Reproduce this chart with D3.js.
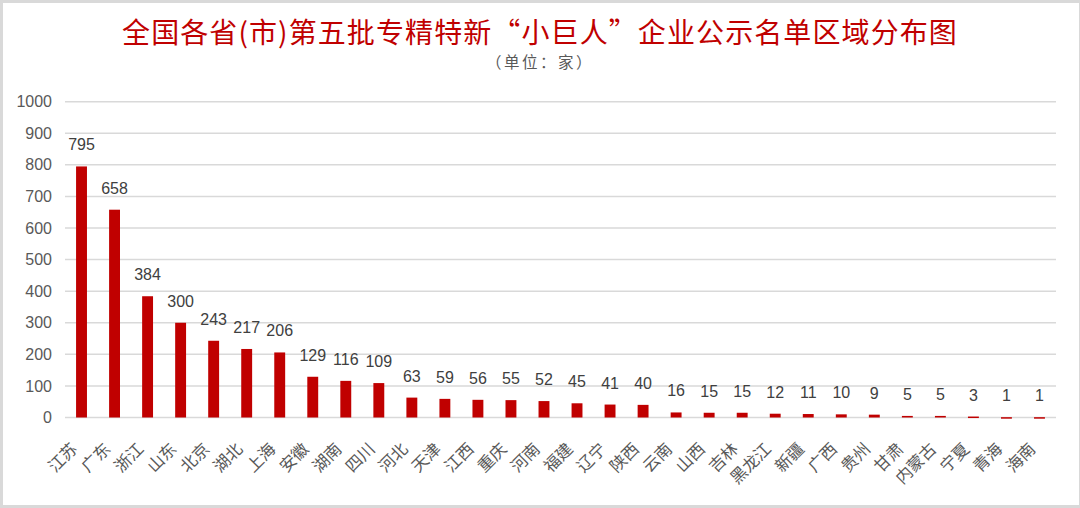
<!DOCTYPE html>
<html><head><meta charset="utf-8">
<script src="https://cdn.jsdelivr.net/npm/d3@7"></script>
<style>
html,body{margin:0;padding:0;background:#fff;}
svg{display:block;}
text{font-family:"Noto Sans CJK SC","Noto Sans",sans-serif;}
</style></head>
<body>
<script>
const categories = ["江苏","广东","浙江","山东","北京","湖北","上海","安徽","湖南","四川","河北","天津","江西","重庆","河南","福建","辽宁","陕西","云南","山西","吉林","黑龙江","新疆","广西","贵州","甘肃","内蒙古","宁夏","青海","海南"];
const values = [795,658,384,300,243,217,206,129,116,109,63,59,56,55,52,45,41,40,16,15,15,12,11,10,9,5,5,3,1,1];
const yTicks = [0,100,200,300,400,500,600,700,800,900,1000];
const title = "全国各省(市)第五批专精特新“小巨人”企业公示名单区域分布图";
const subtitle = "（单位：家）";

const W = 1080, H = 508;
const svg = d3.select("body").append("svg").attr("width", W).attr("height", H);

svg.append("rect").attr("width", W).attr("height", H).attr("fill", "#d9d9d9");
svg.append("rect").attr("x", 3).attr("y", 3).attr("width", W - 4).attr("height", H - 6).attr("fill", "#fff");

const x = d3.scaleBand().domain(categories).range([65, 1056]).paddingInner(0.67).paddingOuter(0.335);
const y = d3.scaleLinear().domain([0, 1000]).range([417.5, 101.7]);

// gridlines
svg.append("g").selectAll("line").data(yTicks).join("line")
  .attr("x1", 65).attr("x2", 1056)
  .attr("y1", d => y(d)).attr("y2", d => y(d))
  .attr("stroke", "#d9d9d9").attr("stroke-width", 1.5);

// y axis labels
const yAxis = d3.axisLeft(y).tickValues(yTicks).tickSize(0).tickPadding(0).tickFormat(d3.format("d"));
const ya = svg.append("g").attr("transform", "translate(52,0)").call(yAxis);
ya.select(".domain").remove();
ya.selectAll("text").attr("fill", "#595959").style("font-size", "16px")
  .style("font-family", "'Liberation Sans', Arial, sans-serif");

// bars
svg.append("g").selectAll("rect").data(values).join("rect")
  .attr("x", (d, i) => x(categories[i]))
  .attr("width", x.bandwidth())
  .attr("y", d => y(d))
  .attr("height", d => Math.max(1.5, y(0) - y(d)))
  .attr("fill", "#c00000");

// data labels
svg.append("g").selectAll("text").data(values).join("text")
  .attr("x", (d, i) => x(categories[i]) + x.bandwidth() / 2)
  .attr("y", d => y(d) - 16)
  .attr("text-anchor", "middle")
  .attr("fill", "#404040")
  .style("font-size", "16px")
  .style("font-family", "'Liberation Sans', Arial, sans-serif")
  .text(d => d);

// x labels
svg.append("g").selectAll("text").data(categories).join("text")
  .attr("transform", d => `translate(${x(d) + x.bandwidth() / 2 - 3},450) rotate(-45)`)
  .attr("text-anchor", "end")
  .attr("fill", "#595959")
  .style("font-size", "16.5px")
  .text(d => d);

// title
svg.append("text").attr("x", 540).attr("y", 43).attr("text-anchor", "middle")
  .attr("fill", "#c00000").style("font-size", "28px").style("letter-spacing", "1.1px").text(title);
svg.append("text").attr("x", 540).attr("y", 68).attr("text-anchor", "middle")
  .attr("fill", "#595959").style("font-size", "15.5px").style("letter-spacing", "2.5px").text(subtitle);
</script>
</body></html>
